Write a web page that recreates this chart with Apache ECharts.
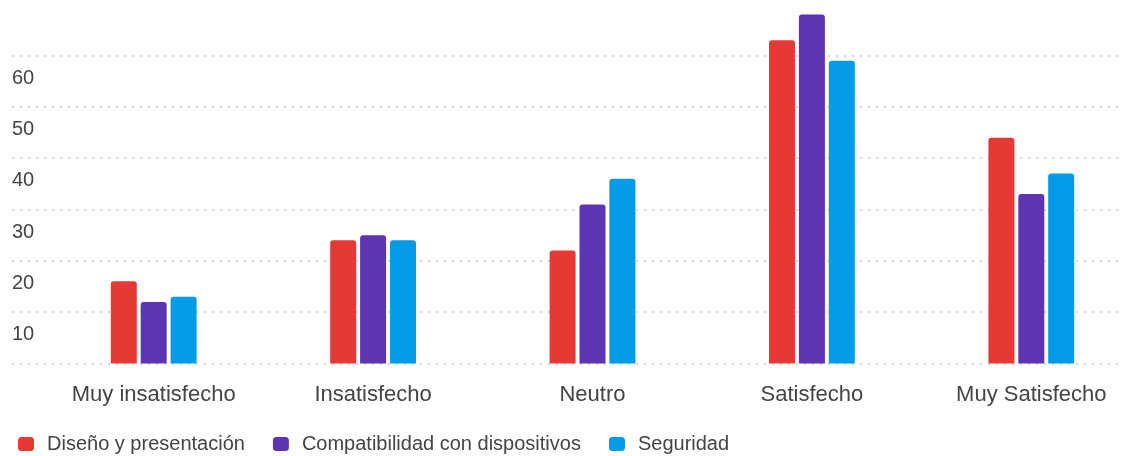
<!DOCTYPE html>
<html>
<head>
<meta charset="utf-8">
<script src="https://cdn.jsdelivr.net/npm/echarts@6/dist/echarts.min.js"></script>
<style>
	html,body{margin:0;padding:0;background:#fff}
	#chart{width:1123px;height:456px}
</style>
</head>
<body>
<div id="chart"></div>
<script>
	// datos
	var categorias = ['Muy insatisfecho', 'Insatisfecho', 'Neutro', 'Satisfecho', 'Muy Satisfecho'];
	var diseno = [16, 24, 22, 63, 44];
	var compatibilidad = [12, 25, 31, 68, 33];
	var seguridad = [13, 24, 36, 59, 37];
	var nombres = ['Diseño y presentación', 'Compatibilidad con dispositivos', 'Seguridad'];
	var colores = ['#e53935', '#5e35b1', '#039be5'];

	var fuente = "'Liberation Sans', Arial, sans-serif";
	var myChart = echarts.init(document.getElementById('chart'));

	function serie(i, datos) {
		return {
			name: nombres[i],
			type: 'bar',
			xAxisIndex: 1,
			yAxisIndex: 1,
			data: datos,
			barWidth: 26,
			barGap: '15%',
			itemStyle: {color: colores[i], borderRadius: [3, 3, 0, 0]}
		};
	}

	var option = {
		animation: false,
		textStyle: {fontFamily: fuente},
		legend: {
			left: 13,
			top: 429,
			itemWidth: 16,
			itemHeight: 14,
			itemGap: 28,
			icon: 'roundRect',
			textStyle: {fontSize: 20, color: '#444', fontFamily: fuente, padding: [0, 0, 0, 8]},
			data: nombres
		},
		grid: [
			// rejilla de fondo (líneas y etiquetas)
			{left: 12, right: 0, top: 4.2, bottom: 92.5, outerBoundsMode: 'none'},
			// barras
			{left: 44, right: -18, top: 4.2, bottom: 92.5, outerBoundsMode: 'none'}
		],
		xAxis: [
			{gridIndex: 0, type: 'category', data: categorias, show: false},
			{
				gridIndex: 1,
				type: 'category',
				data: categorias,
				axisLine: {show: false},
				axisTick: {show: false},
				axisLabel: {fontSize: 22, color: '#444', fontFamily: fuente, margin: 20}
			}
		],
		yAxis: [
			{
				gridIndex: 0,
				type: 'value',
				min: 0,
				max: 70,
				interval: 10,
				axisLine: {show: false},
				axisTick: {show: false},
				axisLabel: {
					inside: true,
					margin: 0,
					align: 'left',
					verticalAlign: 'middle',
					lineHeight: 45,
					formatter: function (v) { return '\n' + v; },
					fontSize: 20,
					color: '#444',
					fontFamily: fuente,
					showMinLabel: false,
					showMaxLabel: false
				},
				splitLine: {
					show: true,
					showMaxLine: false,
					lineStyle: {color: '#d6d6d6', width: 2, type: [2, 6]}
				}
			},
			{gridIndex: 1, type: 'value', min: 0, max: 70, interval: 10, show: false, splitLine: {show: false}}
		],
		series: [
			serie(0, diseno),
			serie(1, compatibilidad),
			serie(2, seguridad)
		]
	};

	myChart.setOption(option);
</script>
</body>
</html>
